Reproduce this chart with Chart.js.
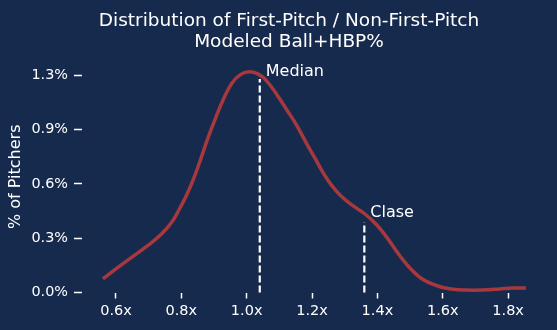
<!DOCTYPE html>
<html>
<head>
<meta charset="utf-8">
<script src="https://cdn.jsdelivr.net/npm/chart.js@4"></script>
<style>
  html, body { margin: 0; padding: 0; background: #162a4d; }
  #wrap { width: 557px; height: 330px; }
</style>
</head>
<body>
<div id="wrap"><canvas id="kdeChart" width="557" height="330"></canvas></div>
<script>
// curve (x = multiple, y = % of pitchers)
var ratioX = [0.560, 0.606, 0.652, 0.698, 0.740, 0.771, 0.795, 0.817, 0.838, 0.860, 0.881, 0.902,
              0.927, 0.954, 0.982, 1.009, 1.037, 1.061, 1.092, 1.122, 1.153, 1.183, 1.211, 1.235,
              1.260, 1.287, 1.324, 1.360, 1.397, 1.431, 1.461, 1.498, 1.537, 1.580, 1.620, 1.672,
              1.721, 1.773, 1.812, 1.855];
var pctY = [0.081, 0.150, 0.216, 0.282, 0.351, 0.422, 0.503, 0.587, 0.683, 0.803, 0.923, 1.031,
            1.150, 1.252, 1.306, 1.322, 1.306, 1.267, 1.186, 1.096, 1.001, 0.893, 0.797, 0.713,
            0.641, 0.581, 0.521, 0.473, 0.407, 0.324, 0.240, 0.150, 0.081, 0.042, 0.022, 0.015,
            0.015, 0.021, 0.027, 0.027];

// vertical markers
var markerNames = ['Median', 'Clase'];
var markerX = [1.04, 1.36];
var markerTop = [1.278, 0.42];
var markerTextY = [1.294, 0.455];

// axis ticks
var xTickVals = [0.6, 0.8, 1.0, 1.2, 1.4, 1.6, 1.8];
var yTickVals = [0, 0.325, 0.65, 0.975, 1.3];
var yTickLabels = ['0.0%', '0.3%', '0.6%', '0.9%', '1.3%'];

var titleLines = ['Distribution of First-Pitch / Non-First-Pitch', 'Modeled Ball+HBP%'];

var BG = '#162a4d';
var FONT = "'DejaVu Sans', sans-serif";

var curve = ratioX.map(function(x, i){ return {x: x, y: pctY[i]}; });

var datasets = [{
	label: 'density',
	data: curve,
	borderColor: '#a6383e',
	borderWidth: 3.5,
	pointRadius: 0,
	fill: false,
	tension: 0.4,
	clip: false
}];

markerX.forEach(function(x, i){
	datasets.push({
		label: markerNames[i],
		data: [{x: x, y: 0}, {x: x, y: markerTop[i]}],
		borderColor: '#ffffff',
		borderWidth: 2.2,
		borderDash: [7, 3],
		pointRadius: 0,
		fill: false,
		clip: false
	});
});

var bgPlugin = {
	id: 'bg',
	beforeDraw: function(chart){
		var c = chart.ctx;
		c.save();
		c.fillStyle = BG;
		c.fillRect(0, 0, chart.width, chart.height);
		c.restore();
	}
};

var textPlugin = {
	id: 'texts',
	afterDraw: function(chart){
		var c = chart.ctx;
		var xs = chart.scales.x, ys = chart.scales.y;
		c.save();
		c.fillStyle = '#ffffff';
		c.textBaseline = 'alphabetic';

		// title
		c.font = '18.5px ' + FONT;
		c.textAlign = 'center';
		c.fillText(titleLines[0], 289, 25.5);
		c.fillText(titleLines[1], 289, 47);

		// marker labels
		c.font = '16px ' + FONT;
		c.textAlign = 'left';
		markerNames.forEach(function(n, i){
			c.fillText(n, xs.getPixelForValue(markerX[i]) + 6, ys.getPixelForValue(markerTextY[i]));
		});
		c.restore();
	}
};

var ctx = document.getElementById('kdeChart').getContext('2d');
var kdeChart = new Chart(ctx, {
	type: 'line',
	data: { datasets: datasets },
	options: {
		responsive: false,
		animation: false,
		layout: { padding: { top: 61, right: 10, left: 0, bottom: 0 } },
		plugins: {
			legend: { display: false },
			tooltip: { enabled: false }
		},
		scales: {
			x: {
				type: 'linear',
				min: 0.496,
				max: 1.919,
				afterBuildTicks: function(s){ s.ticks = xTickVals.map(function(v){ return {value: v}; }); },
				afterFit: function(s){ s.height = 37.5; },
				ticks: {
					color: '#ffffff',
					font: { family: FONT, size: 14.5 },
					padding: 4,
					maxRotation: 0,
					callback: function(v){ return v.toFixed(1) + 'x'; }
				},
				grid: { display: true, drawOnChartArea: false, drawTicks: true, tickLength: 6, tickWidth: 1.5, color: '#ffffff' },
				border: { display: false }
			},
			y: {
				min: 0,
				max: 1.386,
				afterBuildTicks: function(s){ s.ticks = yTickVals.map(function(v){ return {value: v}; }); },
				afterFit: function(s){ s.width = 82; },
				ticks: {
					color: '#ffffff',
					font: { family: FONT, size: 14.4 },
					padding: 6,
					callback: function(v){ return yTickLabels[yTickVals.indexOf(v)]; }
				},
				grid: { display: true, drawOnChartArea: false, drawTicks: true, tickLength: 8, tickWidth: 1.5, color: '#ffffff' },
				border: { display: false },
				title: {
					display: true,
					text: '% of Pitchers',
					color: '#ffffff',
					font: { family: FONT, size: 16 },
					padding: { top: 6, bottom: 0 }
				}
			}
		}
	},
	plugins: [bgPlugin, textPlugin]
});
</script>
</body>
</html>
